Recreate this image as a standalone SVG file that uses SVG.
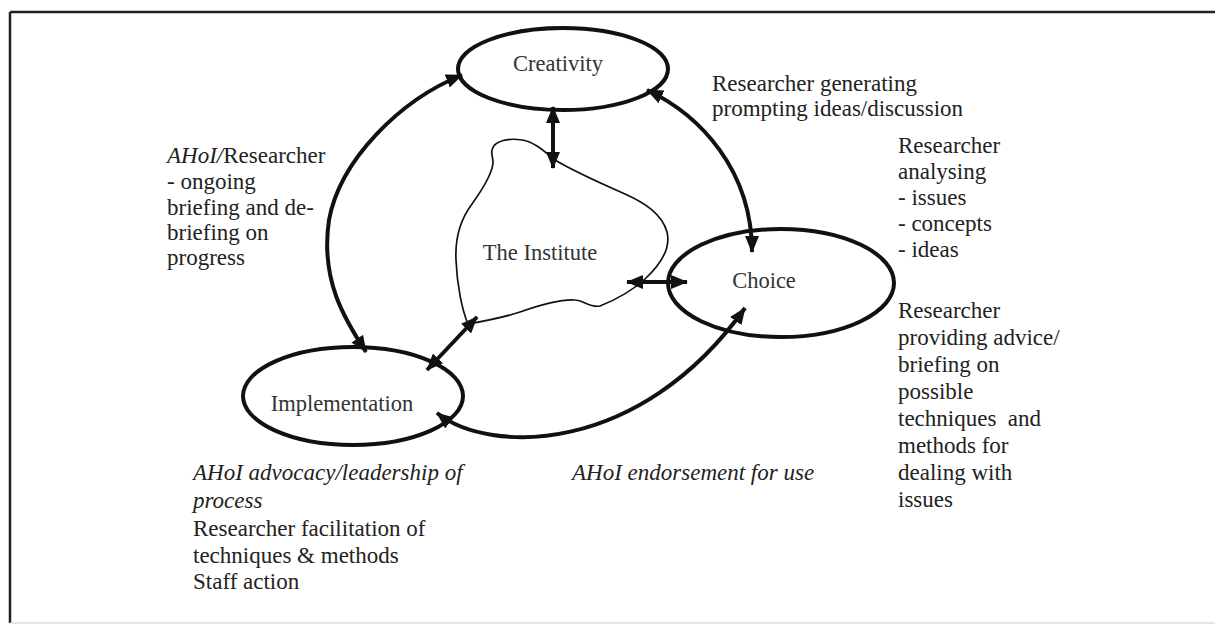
<svg xmlns="http://www.w3.org/2000/svg" width="1215" height="626" viewBox="0 0 1215 626">
  <defs>
    <marker id="head" viewBox="0 0 17 14" refX="16" refY="7" markerWidth="17" markerHeight="14" markerUnits="userSpaceOnUse" orient="auto-start-reverse">
      <path d="M0,0 L17,7 L0,14 z" fill="#111"/>
    </marker>
    <style>
      .frame { stroke: #222; stroke-width: 2.5; fill: none; }
      .node { fill: none; stroke: #111; stroke-width: 4; }
      .blob { fill: none; stroke: #111; stroke-width: 1.7; }
      .label { font-family: "Liberation Serif", "Times New Roman", serif; font-size: 22.5px; fill: #333; text-anchor: middle; }
      .note { font-family: "Liberation Serif", "Times New Roman", serif; font-size: 23px; fill: #222; }
      .it { font-style: italic; }
      .link { fill: none; stroke: #111; stroke-width: 4; marker-start: url(#head); marker-end: url(#head); }
    </style>
  </defs>

  <rect width="1215" height="626" fill="#fff"/>

  <!-- page frame: top, left and bottom rules -->
  <path class="frame" d="M10,12 H1215 M10,12 V623"/>
  <path d="M10,623 H1215" stroke="#ddd" stroke-width="1.5"/>

  <g id="creativity">
    <ellipse class="node" cx="563" cy="69" rx="105" ry="41"/>
    <text class="label" x="558" y="71">Creativity</text>
  </g>

  <g id="institute">
    <path class="blob" d="M492,150 C494,140 510,138 522,140 C535,142 545,152 555,160 C575,172 600,183 625,194 C645,203 662,214 667,232 C671,248 660,265 645,279 C632,291 615,300 600,306 C590,308 583,300 575,300 C560,299 540,305 520,312 C505,317 485,321 468,324 C462,310 457,285 456,260 C455,240 460,220 472,204 C482,190 492,175 493,163 C493,157 491,154 492,150 Z"/>
    <text class="label" x="540" y="260">The Institute</text>
  </g>

  <g id="choice">
    <ellipse class="node" cx="781" cy="283" rx="113" ry="54"/>
    <text class="label" x="764" y="288">Choice</text>
  </g>

  <g id="implementation">
    <ellipse class="node" cx="353" cy="396" rx="110" ry="49"/>
    <text class="label" x="342" y="411">Implementation</text>
  </g>

  <g id="connectors">
    <path class="link" d="M462,75 C400,100 340,160 329,220 C320,280 345,320 366,352"/>
    <path class="link" d="M647,90 C700,115 752,170 752,252"/>
    <path class="link" d="M553,107 V168"/>
    <path class="link" d="M627,282 H687"/>
    <path class="link" d="M477,317 L427,370"/>
    <path class="link" d="M437,413 C490,455 640,455 745,308"/>
  </g>

  <g id="notes">
    <text class="note" x="712" y="91">Researcher generating</text>
    <text class="note" x="712" y="116">prompting ideas/discussion</text>

    <text class="note" x="898" y="153">Researcher</text>
    <text class="note" x="898" y="179">analysing</text>
    <text class="note" x="898" y="205">- issues</text>
    <text class="note" x="898" y="231">- concepts</text>
    <text class="note" x="898" y="257">- ideas</text>

    <text class="note" x="898" y="318">Researcher</text>
    <text class="note" x="898" y="345">providing advice/</text>
    <text class="note" x="898" y="372">briefing on</text>
    <text class="note" x="898" y="399">possible</text>
    <text class="note" x="898" y="426" xml:space="preserve">techniques  and</text>
    <text class="note" x="898" y="453">methods for</text>
    <text class="note" x="898" y="480">dealing with</text>
    <text class="note" x="898" y="507">issues</text>

    <text class="note" x="167" y="163"><tspan class="it">AHoI/</tspan>Researcher</text>
    <text class="note" x="167" y="189">- ongoing</text>
    <text class="note" x="167" y="215">briefing and de-</text>
    <text class="note" x="167" y="240">briefing on</text>
    <text class="note" x="167" y="265">progress</text>

    <text class="note it" x="193" y="480">AHoI advocacy/leadership of</text>
    <text class="note it" x="193" y="508">process</text>
    <text class="note" x="193" y="536">Researcher facilitation of</text>
    <text class="note" x="193" y="563">techniques &amp; methods</text>
    <text class="note" x="193" y="589">Staff action</text>

    <text class="note it" x="572" y="480">AHoI endorsement for use</text>
  </g>
</svg>
